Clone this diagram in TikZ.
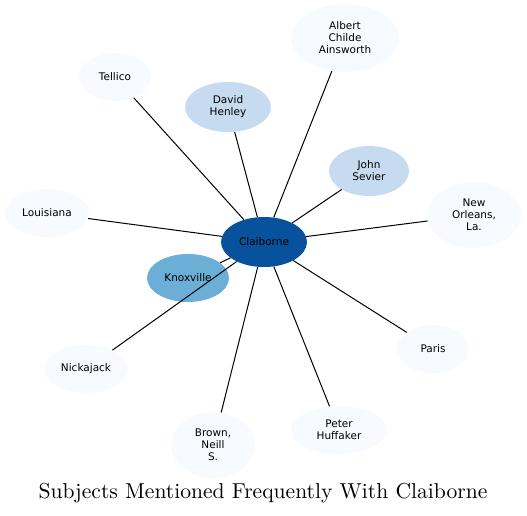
\documentclass[tikz,border=0pt]{standalone}
\usepackage{fontspec}
\setsansfont{DejaVu Sans}
\newfontfamily\titlefont{lmroman10-regular.otf}
\usetikzlibrary{shapes.geometric}
\definecolor{hubFl}{HTML}{08519C}
\definecolor{nearFl}{HTML}{6BAED6}
\definecolor{midFl}{HTML}{C6DBEF}
\definecolor{farFl}{HTML}{F7FBFF}

\begin{document}
\begin{tikzpicture}[
  x=1pt, y=-1pt,
  font=\sffamily\fontsize{10.5}{12}\selectfont,
  subj/.style={ellipse, inner sep=0pt, align=center, fill=farFl},
  link/.style={line width=1pt, draw=black},
]
\useasboundingbox (0,0) rectangle (527,515);

% ---------------------------- the centre ----------------------------------
\node[subj, fill=hubFl, minimum width=86pt, minimum height=50pt] (claib) at (264,242) {Claiborne};

% ---------------------------- close subjects ------------------------------
\node[subj, fill=nearFl, minimum width=82pt, minimum height=48pt] (knox) at (188,278) {Knoxville};
\node[subj, fill=midFl, minimum width=86pt, minimum height=50pt] (henley) at (228,107) {David\\Henley};
\node[subj, fill=midFl, minimum width=80pt, minimum height=50pt] (sevier) at (369,171) {John\\Sevier};

% ---------------------------- the rest ------------------------------------
\node[subj, minimum width=108pt, minimum height=68pt] (ains) at (345,38) {Albert\\Childe\\Ainsworth};
\node[subj, minimum width=72pt, minimum height=48pt] (tellico) at (115,77) {Tellico};
\node[subj, minimum width=84pt, minimum height=48pt] (louis) at (47,213) {Louisiana};
\node[subj, minimum width=94pt, minimum height=66pt] (orleans) at (474,215) {New\\Orleans,\\La.};
\node[subj, minimum width=72pt, minimum height=48pt] (paris) at (433,349) {Paris};
\node[subj, minimum width=84pt, minimum height=48pt] (nick) at (86,369) {Nickajack};
\node[subj, minimum width=84pt, minimum height=66pt] (brown) at (213,445) {Brown,\\Neill\\S.};
\node[subj, minimum width=96pt, minimum height=48pt] (huff) at (339,430) {Peter\\Huffaker};

% ---------------------------- links ---------------------------------------
% drawn after the ellipses, so the Nickajack line crosses Knoxville
\foreach \other in {knox, henley, sevier, ains, tellico, louis, orleans, paris, nick, brown, huff}
  \draw[link] (claib) -- (\other);

% ---------------------------- title ---------------------------------------
\node[font=\titlefont\fontsize{21.6}{24}\selectfont] (title) at (263,493) {Subjects Mentioned Frequently With Claiborne};

\end{tikzpicture}
\end{document}
